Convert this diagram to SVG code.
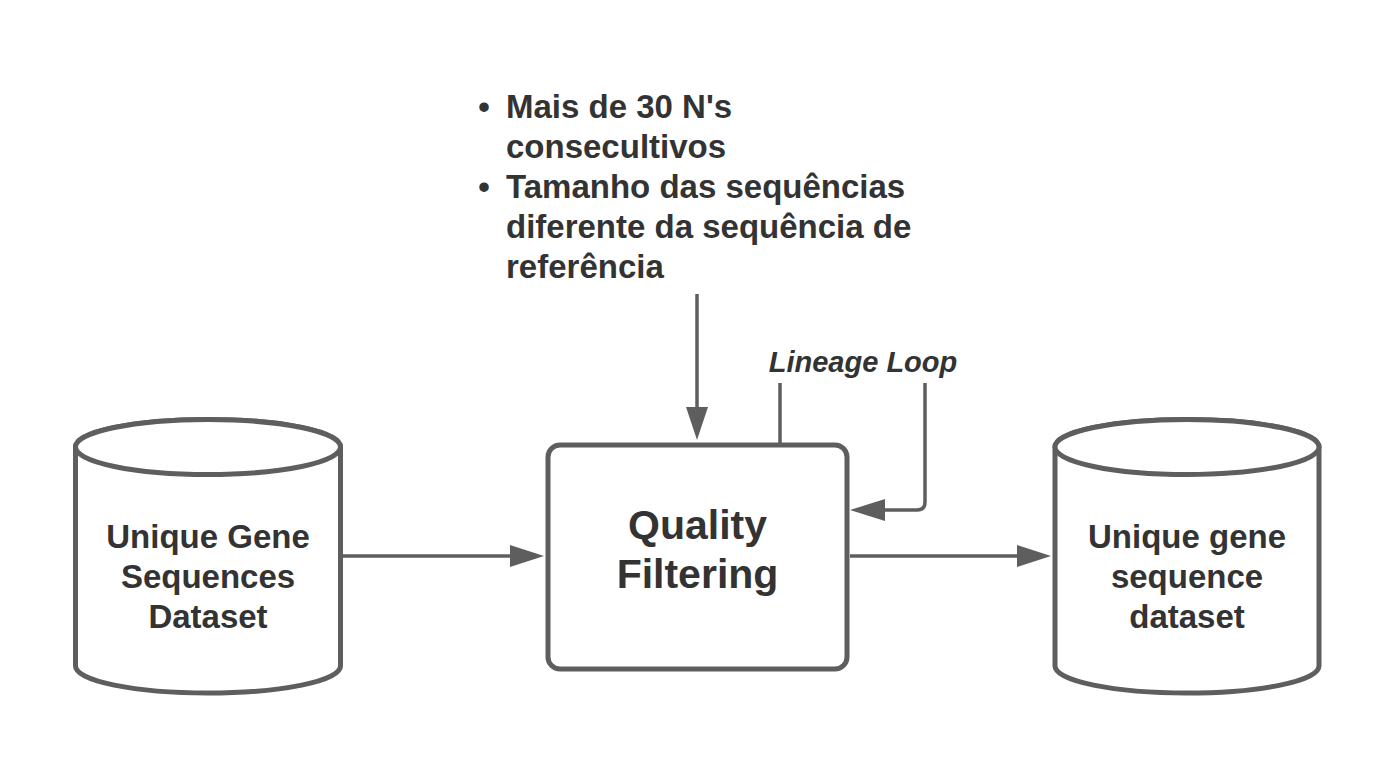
<svg xmlns="http://www.w3.org/2000/svg" width="1393" height="769" viewBox="0 0 1393 769">
<style>
.shape{fill:#ffffff;stroke:#5e5e5e;stroke-width:5}
.conn{fill:none;stroke:#5e5e5e;stroke-width:3.5}
.head{fill:#5e5e5e;stroke:none}
.t{font-family:"Liberation Sans",Arial,sans-serif;font-weight:bold;fill:#333333}
</style>
<rect x="0" y="0" width="1393" height="769" fill="#ffffff"/>
<g id="criteria">
<text class="t" font-size="33" x="484" y="118" text-anchor="middle">•</text>
<text class="t" font-size="33" x="506" y="118">Mais de 30 N's</text>
<text class="t" font-size="33" x="506" y="158">consecultivos</text>
<text class="t" font-size="33" x="484" y="198" text-anchor="middle">•</text>
<text class="t" font-size="33" x="506" y="198">Tamanho das sequências</text>
<text class="t" font-size="33" x="506" y="238">diferente da sequência de</text>
<text class="t" font-size="33" x="506" y="278">referência</text>
</g>
<g id="lineage-label">
<text class="t" font-size="29" font-style="italic" x="863" y="372" text-anchor="middle">Lineage Loop</text>
</g>
<g id="input-dataset">
<path class="shape" d="M75.5,447 A132.5,27.5 0 0 1 340.5,447 L340.5,666 A132.5,27 0 0 1 75.5,666 Z"/>
<ellipse class="shape" cx="208" cy="447" rx="132.5" ry="27.5"/>
<text class="t" font-size="33" x="208" y="548" text-anchor="middle">Unique Gene</text>
<text class="t" font-size="33" x="208" y="588" text-anchor="middle">Sequences</text>
<text class="t" font-size="33" x="208" y="628" text-anchor="middle">Dataset</text>
</g>
<g id="quality-filtering">
<rect class="shape" x="548" y="445" width="299" height="224" rx="12" ry="12"/>
<text class="t" font-size="41" x="697.5" y="539" text-anchor="middle">Quality</text>
<text class="t" font-size="41" x="697.5" y="588" text-anchor="middle">Filtering</text>
</g>
<g id="output-dataset">
<path class="shape" d="M1055,447 A132,27.5 0 0 1 1319,447 L1319,666 A132,27 0 0 1 1055,666 Z"/>
<ellipse class="shape" cx="1187" cy="447" rx="132" ry="27.5"/>
<text class="t" font-size="33" x="1187" y="548" text-anchor="middle">Unique gene</text>
<text class="t" font-size="33" x="1187" y="588" text-anchor="middle">sequence</text>
<text class="t" font-size="33" x="1187" y="628" text-anchor="middle">dataset</text>
</g>
<g id="connectors">
<line class="conn" x1="343" y1="556" x2="512" y2="556"/>
<polygon class="head" points="510,545 544,556 510,567"/>
<line class="conn" x1="850" y1="556" x2="1018" y2="556"/>
<polygon class="head" points="1017,545 1051,556 1017,567"/>
<line class="conn" x1="697" y1="294" x2="697" y2="409"/>
<polygon class="head" points="686,407 697,440 708,407"/>
<line class="conn" x1="780" y1="383" x2="780" y2="443"/>
<path class="conn" d="M925,383 L925,502 Q925,510 917,510 L883,510"/>
<polygon class="head" points="885,499 850,510 885,521"/>
</g>
</svg>
